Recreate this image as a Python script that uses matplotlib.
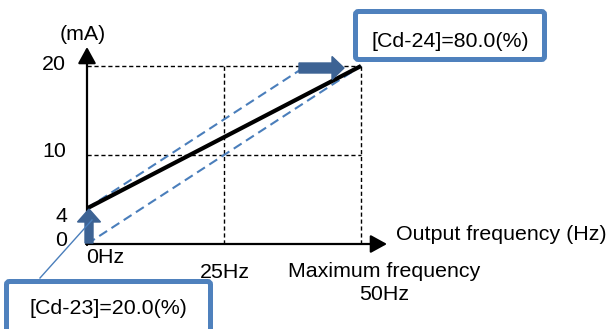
import matplotlib
matplotlib.use("Agg")
import matplotlib.pyplot as plt
import matplotlib.transforms as mtransforms
from matplotlib.patches import FancyArrow, FancyBboxPatch

# ---- data ----
freq_main = [0, 50]
current_main = [4, 20]
freq_upper = [0, 40]
current_upper = [4, 20]
freq_lower = [0, 50]
current_lower = [0, 20]
grid_currents = [10, 20]
grid_freqs = [25, 50]
y_tick_values = [0, 4, 10, 20]
y_tick_labels = ["0", "4", "10", "20"]
bias_label = "[Cd-23]=20.0(%)"
gain_label = "[Cd-24]=80.0(%)"

W, H, DPI = 606, 329, 100
plt.rcParams['font.family'] = ['Liberation Sans', 'DejaVu Sans']
fig = plt.figure(figsize=(W / DPI, H / DPI), dpi=DPI)
ax = fig.add_axes([0, 0, 1, 1])
ax.axis('off')

# data -> pixel mapping: 0 Hz at x=87, 50 Hz at x=361; 0 mA at y=244, 20 mA at y=66
pxhz = (361 - 87) / 50.0
pxma = (244 - 66) / 20.0
ax.set_xlim(-87 / pxhz, (W - 87) / pxhz)
ax.set_ylim(-(H - 244) / pxma, 244 / pxma)

# pixel transform for layout (origin top-left)
pix = mtransforms.Affine2D().scale(1, -1).translate(0, H)

FS = 15.4
BLUE = '#4a7ebb'
DARK = '#3d6394'

# grid dashed lines
for c in grid_currents:
    ax.plot([0, 50], [c, c], color='black', lw=1.0, ls=(0, (3, 2)), zorder=1)
for f in grid_freqs:
    ax.plot([f, f], [0, 20], color='black', lw=1.0, ls=(0, (3, 2)), zorder=1)

# dashed blue lines
ax.plot(freq_upper, current_upper, color=BLUE, lw=1.5, ls=(0, (4.5, 2.5)), zorder=2)
ax.plot(freq_lower, current_lower, color=BLUE, lw=1.5, ls=(0, (4.5, 2.5)), zorder=2)

# main line
ax.plot(freq_main, current_main, color='black', lw=3, solid_capstyle='butt', zorder=3)

# axes arrows
ax.annotate('', xy=(387, 244), xytext=(86, 244), xycoords=pix, textcoords=pix,
            arrowprops=dict(arrowstyle='-|>,head_length=1.0,head_width=0.55', mutation_scale=10,
                            lw=1.6, color='black', shrinkA=0, shrinkB=0), zorder=4)
ax.annotate('', xy=(87, 47), xytext=(87, 245), xycoords=pix, textcoords=pix,
            arrowprops=dict(arrowstyle='-|>,head_length=1.0,head_width=0.55', mutation_scale=10,
                            lw=1.6, color='black', shrinkA=0, shrinkB=0), zorder=4)

# block arrows
ax.add_patch(FancyArrow(89, 243, 0, -34, width=8, head_width=23, head_length=13,
                        length_includes_head=True, color=DARK, transform=pix, zorder=5))
ax.add_patch(FancyArrow(299, 68, 45, 0, width=10, head_width=23, head_length=12,
                        length_includes_head=True, color=DARK, transform=pix, zorder=5))

# connector line
ax.plot([40, 92], [278, 220], color=BLUE, lw=1.0, transform=pix, zorder=6)

# boxes
ax.add_patch(FancyBboxPatch((355.5, 11.5), 189, 48, boxstyle='round,pad=0,rounding_size=3',
                            fc='white', ec='#4f81bd', lw=3.6, transform=pix, zorder=6))
ax.add_patch(FancyBboxPatch((6.5, 281.5), 204, 60, boxstyle='round,pad=0,rounding_size=3',
                            fc='white', ec='#4f81bd', lw=3.6, transform=pix, zorder=6,
                            clip_on=False))
ax.text(450, 47, gain_label, transform=pix, ha='center', va='baseline', fontsize=FS, zorder=7)
ax.text(108.5, 314, bias_label, transform=pix, ha='center', va='baseline', fontsize=FS, zorder=7)

# tick labels
tick_pos = {0: (67, 246), 4: (67, 222), 10: (66, 157), 20: (66, 70)}
for v, lab in zip(y_tick_values, y_tick_labels):
    x, y = tick_pos[v]
    ax.text(x, y, lab, transform=pix, ha='right', va='baseline', fontsize=FS)

ax.text(83, 34.5, "(mA)", transform=pix, ha='center', va='center', fontsize=FS)
ax.text(86, 263, "0Hz", transform=pix, ha='left', va='baseline', fontsize=FS)
ax.text(224.5, 278, "25Hz", transform=pix, ha='center', va='baseline', fontsize=FS)
ax.text(384, 277, "Maximum frequency", transform=pix, ha='center', va='baseline', fontsize=FS)
ax.text(384, 300, "50Hz", transform=pix, ha='center', va='baseline', fontsize=FS)
ax.text(396, 240, "Output frequency (Hz)", transform=pix, ha='left', va='baseline', fontsize=FS)

fig.savefig('out.png', dpi=DPI)
